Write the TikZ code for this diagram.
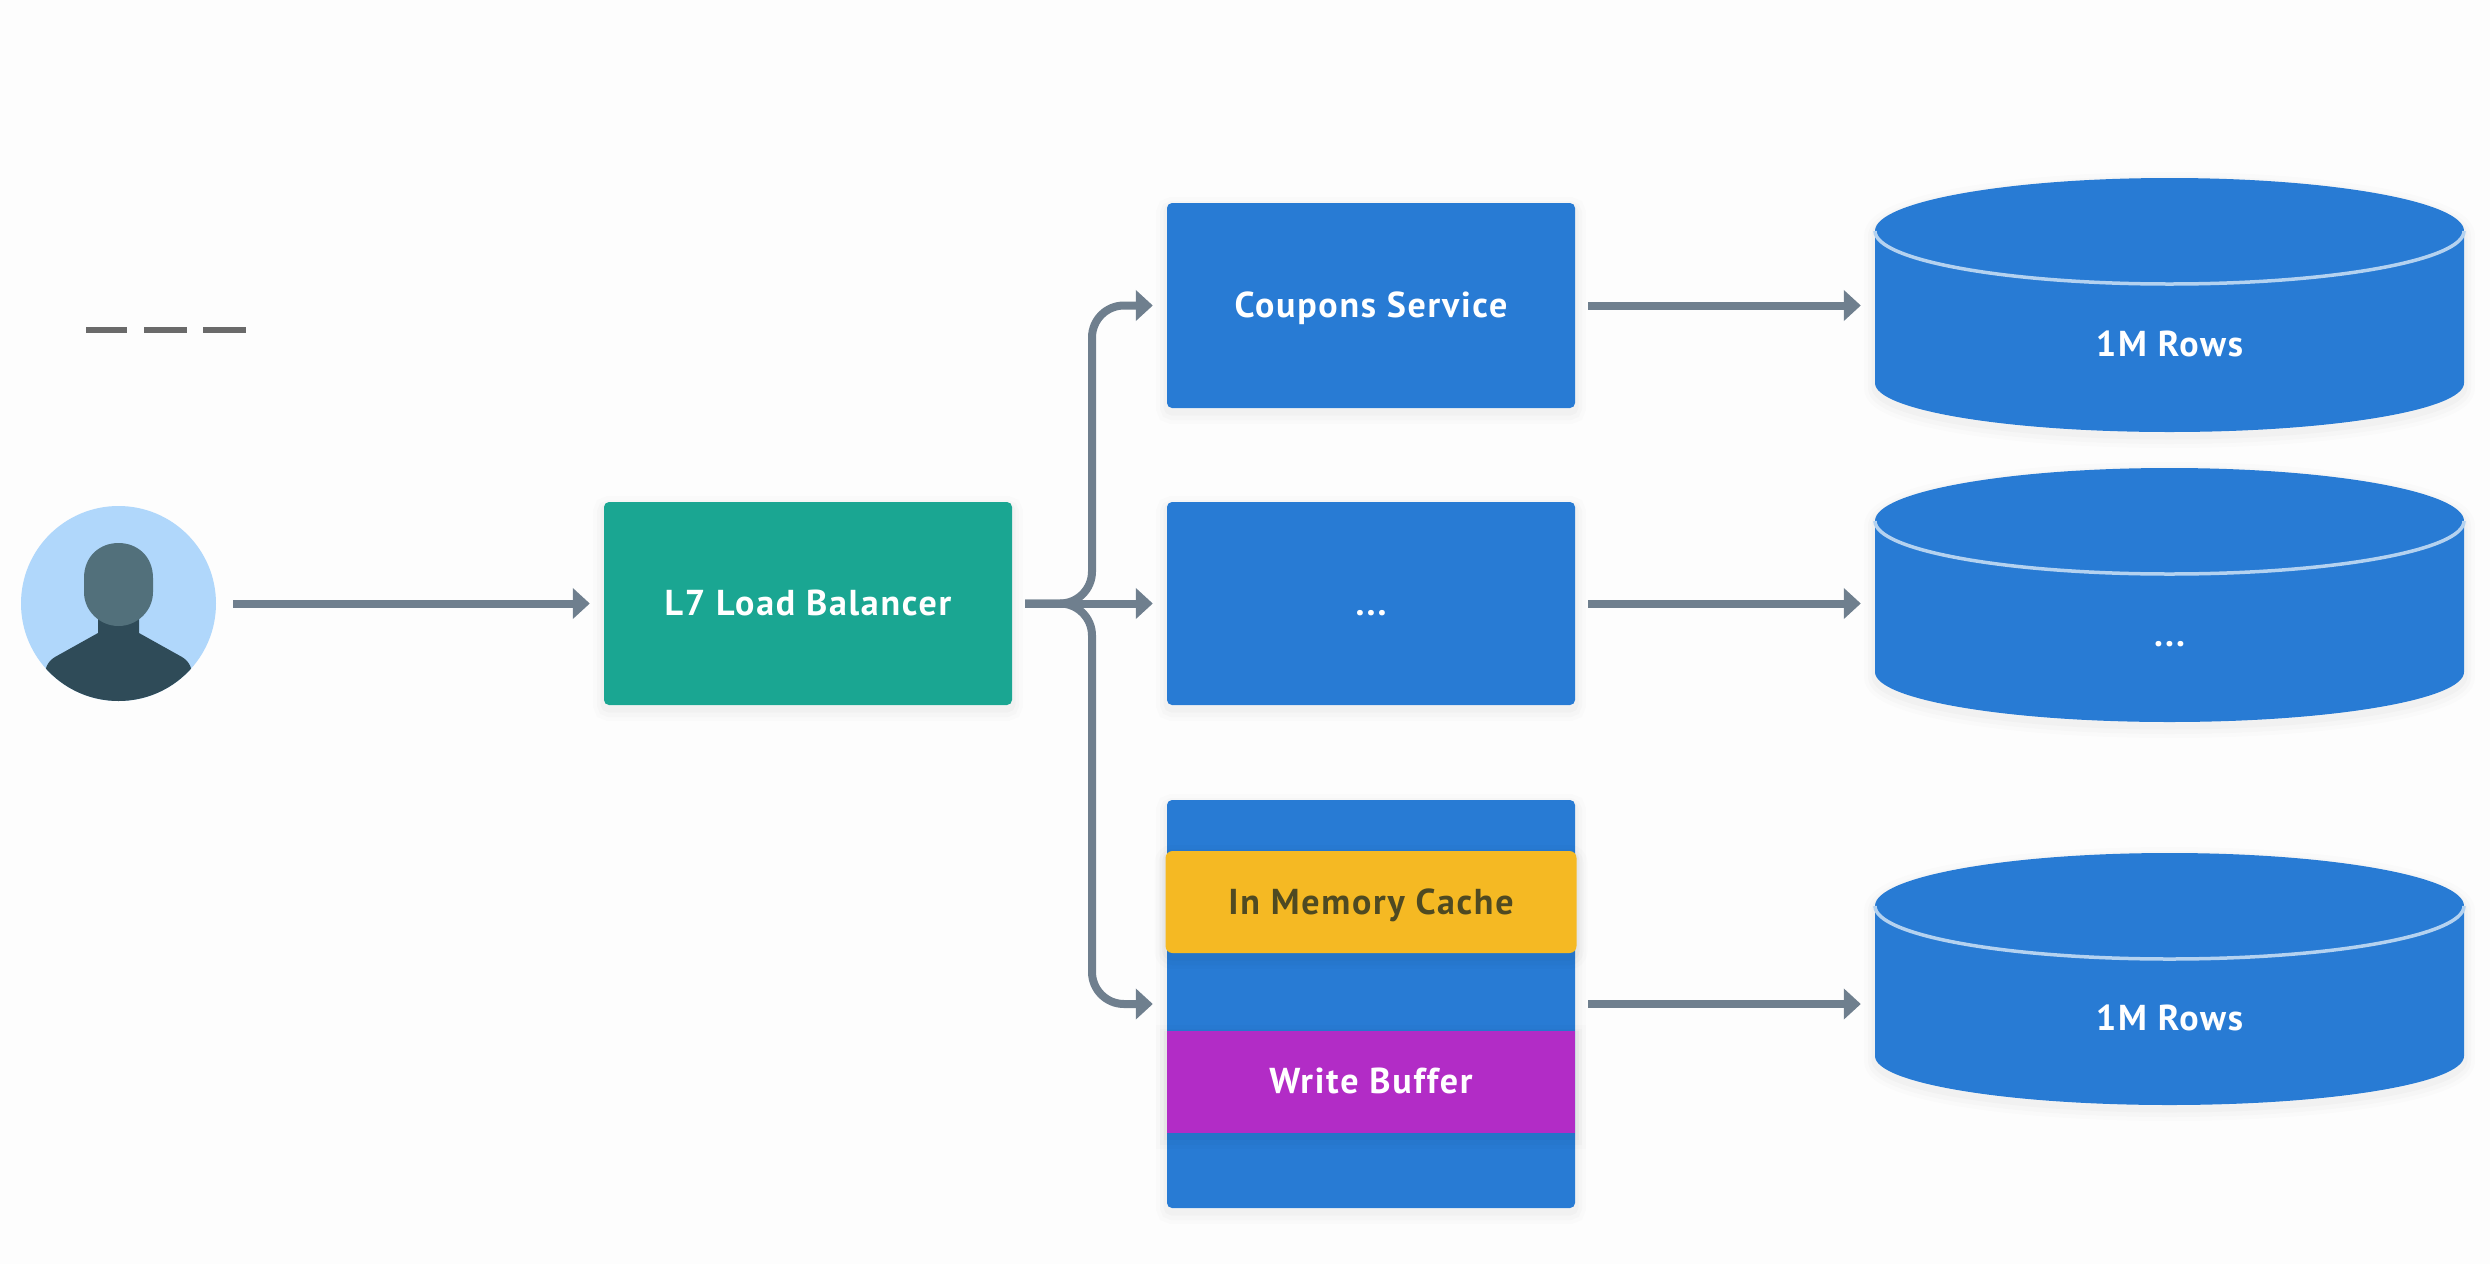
\documentclass[tikz,border=0pt]{standalone}
\usepackage{fontspec}
\setmainfont[LetterSpace=4.8]{PT Sans}
\usetikzlibrary{arrows.meta}
\definecolor{pagebg}{HTML}{FDFDFD}
\definecolor{svcblue}{HTML}{287BD4}
\definecolor{lbgreen}{HTML}{1AA692}
\definecolor{cacheyellow}{HTML}{F5B923}
\definecolor{bufpurple}{HTML}{B22CC6}
\definecolor{arrowgrey}{HTML}{6F7F8E}
\definecolor{dashgrey}{HTML}{6A6A6A}
\definecolor{rimline}{HTML}{B4D2F0}
\definecolor{facesky}{HTML}{B0D7FB}
\definecolor{headslate}{HTML}{52707B}
\definecolor{bodyslate}{HTML}{2F4B58}
\definecolor{cachetext}{HTML}{4F4A22}
\tikzset{
  x=1pt,y=-1pt,
  softshade/.style={
    preaction={draw=black,draw opacity=.012,line width=22pt,transform canvas={yshift=-5pt}},
    preaction={draw=black,draw opacity=.015,line width=14pt,transform canvas={yshift=-5pt}},
    preaction={draw=black,draw opacity=.02,line width=7pt,transform canvas={yshift=-4pt}}},
  boxbase/.style={rectangle,minimum width=408pt,text=white,font=\fontsize{36}{40}\selectfont\bfseries,
    text height=24pt,text depth=0pt,inner sep=0pt,rounded corners=5pt,softshade},
  svcbox/.style={boxbase,fill=svcblue},
  lbbox/.style={boxbase,fill=lbgreen,minimum height=203pt},
  cachebox/.style={boxbase,fill=cacheyellow,minimum width=411pt,minimum height=102pt,text=cachetext,rounded corners=7pt},
  bufbox/.style={boxbase,fill=bufpurple,minimum height=102pt,rounded corners=0pt},
  dbarea/.style={rectangle,minimum width=589pt,inner sep=0pt},
  dbtext/.style={text=white,font=\fontsize{36}{40}\selectfont\bfseries,text height=24pt,text depth=0pt,inner sep=0pt},
  flow/.style={draw=arrowgrey,line width=8pt,shorten <=13pt,shorten >=14pt,
    -{Triangle[length=17pt,width=30pt]}},
  trunk/.style={flow,rounded corners=32pt},
  dashmark/.style={draw=dashgrey,line width=6pt},
}
\newcommand{\dbbody}[3]{% top y, side bottom y, total bottom y
  \path[fill=svcblue,softshade] (1875,#1+53) arc[x radius=294.5,y radius=53,start angle=180,end angle=360] -- (2464,#2)
     arc[x radius=294.5,y radius=#3-#2,start angle=0,end angle=180] -- cycle;
  \draw[rimline,line width=3.5pt] (1875,#1+53) arc[x radius=294.5,y radius=53,start angle=180,end angle=0];
}
\begin{document}
\begin{tikzpicture}
\useasboundingbox[fill=pagebg] (0,0) rectangle (2490,1264);

% legend dashes
\coordinate (d1a) at (86,330); \coordinate (d1b) at (127,330);
\coordinate (d2a) at (144,330); \coordinate (d2b) at (187,330);
\coordinate (d3a) at (203,330); \coordinate (d3b) at (246,330);
\draw[dashmark] (d1a) -- (d1b);
\draw[dashmark] (d2a) -- (d2b);
\draw[dashmark] (d3a) -- (d3b);

% user avatar
\node[circle,fill=facesky,minimum size=195pt,inner sep=0pt] (user) at (118.5,603.5) {};
\begin{scope}
  \clip (user.center) circle[radius=97.5];
  \fill[bodyslate] (98,600) -- (139,600) -- (139,633) -- (182,657)
    .. controls (190,662) and (192,668) .. (193,680) -- (190,720) -- (47,720) -- (44,680)
    .. controls (45,668) and (47,662) .. (55,657) -- (98,633) -- cycle;
\end{scope}
\fill[headslate] (84,578) .. controls (84,556) and (100,543) .. (118.5,543)
  .. controls (137,543) and (153,556) .. (153,578) -- (153,592)
  .. controls (153,611) and (137,626) .. (118.5,626)
  .. controls (100,626) and (84,611) .. (84,592) -- cycle;

% cylinders
\dbbody{178}{383}{432}
\dbbody{468}{672}{722}
\dbbody{853}{1056}{1105}
\node[dbarea,minimum height=254pt] (db1) at (2169.5,305) {};
\node[dbarea,minimum height=254pt] (db2) at (2169.5,595) {};
\node[dbarea,minimum height=252pt] (db3) at (2169.5,979) {};
\node[dbtext] (db1t) at (2169.5,344) {1M Rows};
\node[dbtext] (db2t) at (2169.5,634) {...};
\node[dbtext] (db3t) at (2169.5,1018) {1M Rows};

% boxes
\node[lbbox] (lb) at (808,603.5) {L7 Load Balancer};
\node[svcbox,minimum height=205pt] (svc1) at (1371,305.5) {Coupons Service};
\node[svcbox,minimum height=203pt] (svc2) at (1371,603.5) {...};
\node[svcbox,minimum height=408pt] (svc3) at (1371,1004) {};
\node[cachebox] (cache) at (1371,902) {In Memory Cache};
\node[bufbox] (buf) at (1371,1081.5) {Write Buffer};

% connectors
\coordinate (fork) at (1092,603.5);
\draw[flow,shorten <=17pt] (user.east) -- (lb.west);
\draw[flow] (lb.east) -- (svc2.west);
\draw[trunk] (lb.east) -- (fork) |- (svc1.west);
\draw[trunk] (lb.east) -- (fork) |- (svc3.west);
\draw[flow] (svc1.east) -- (svc1.east -| db1.west);
\draw[flow] (svc2.east) -- (svc2.east -| db2.west);
\draw[flow] (svc3.east) -- (svc3.east -| db3.west);
\end{tikzpicture}
\end{document}
